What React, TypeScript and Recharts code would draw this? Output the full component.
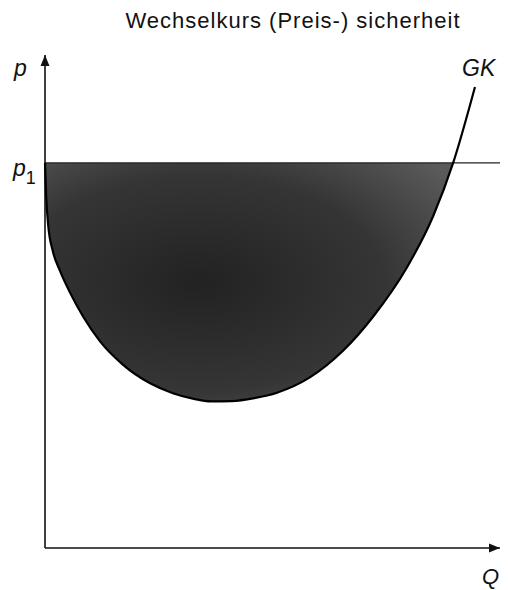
import React from "react"
import {
  Area,
  ComposedChart,
  Line,
  ReferenceDot,
  ReferenceLine,
  XAxis,
  YAxis,
} from "recharts"

// quantity Q along the cost curve (0..100 scale)
const qValues = [0, 0.25, 0.7, 1.7, 3.3, 5.5, 8.4, 12.1, 17.1, 23.1, 28.1, 32.5, 36.5, 41.0, 46.0, 51.0, 58.2, 65.5, 72.1, 79.6, 85.3, 89.7, 94.5]
// price level of the GK curve at each Q
const gkValues = [78.1, 71.5, 65.5, 60.3, 56.2, 51.8, 46.9, 41.9, 37.2, 33.4, 31.4, 30.3, 29.75, 29.8, 30.4, 31.5, 34.6, 40.0, 46.9, 57.0, 67.3, 78.1, 93.5]
// the fixed (secure) price p1
const p1 = 78.1

const data = qValues.map((q, i) => ({
  q,
  gk: gkValues[i],
  band: q < 90 ? [gkValues[i], p1] : null,
}))

const ink = "#111"

// Arrow heads for the axes
const ArrowRight = ({ cx, cy }: any) => (
  <path d={`M${cx},${cy} L${cx - 11},${cy - 4.5} L${cx - 11},${cy + 4.5} Z`} fill={ink} />
)
const ArrowUp = ({ cx, cy }: any) => (
  <path d={`M${cx},${cy} L${cx - 4.5},${cy + 11} L${cx + 4.5},${cy + 11} Z`} fill={ink} />
)

const label = (x: number, y: number, size: number, italic = true): React.CSSProperties => ({
  position: "absolute",
  left: x,
  top: y,
  fontSize: size,
  fontStyle: italic ? "italic" : "normal",
  lineHeight: 1,
  color: ink,
})

export default function App() {
  return (
    <div
      style={{
        position: "absolute",
        left: 0,
        top: 0,
        width: 508,
        height: 590,
        background: "#fff",
        fontFamily: "'Liberation Sans', Arial, sans-serif",
      }}
    >
      <div style={{ ...label(0, 10, 22, false), width: 586, textAlign: "center", letterSpacing: 1 }}>
        Wechselkurs (Preis-) sicherheit
      </div>
      <div style={label(14, 57, 23)}>p</div>
      <div style={label(13, 157, 23)}>
        p<span style={{ fontStyle: "normal", fontSize: 18, position: "relative", top: 8 }}>1</span>
      </div>
      <div style={label(462, 57, 23)}>GK</div>
      <div style={label(482, 566, 22)}>Q</div>

      <ComposedChart
        width={508}
        height={590}
        data={data}
        margin={{ top: 55, right: 8, bottom: 42, left: 45 }}
      >
        <defs>
          <radialGradient id="shade" cx="0.38" cy="0.5" r="0.75">
            <stop offset="0%" stopColor="#222" />
            <stop offset="60%" stopColor="#353535" />
            <stop offset="100%" stopColor="#5a5a5a" />
          </radialGradient>
        </defs>
        <XAxis type="number" dataKey="q" domain={[0, 100]} hide />
        <YAxis type="number" domain={[0, 100]} hide />
        <Area
          dataKey="band"
          type="monotone"
          fill="url(#shade)"
          fillOpacity={1}
          stroke="none"
          isAnimationActive={false}
        />
        <ReferenceLine y={p1} stroke="#222" strokeWidth={1.2} />
        <ReferenceLine x={0} stroke={ink} strokeWidth={1.6} />
        <ReferenceLine y={0} stroke={ink} strokeWidth={1.6} />
        <Line
          dataKey="gk"
          type="monotone"
          stroke="#000"
          strokeWidth={2.2}
          dot={false}
          isAnimationActive={false}
        />
        <ReferenceDot x={100} y={0} r={0} shape={ArrowRight} />
        <ReferenceDot x={0} y={100} r={0} shape={ArrowUp} />
      </ComposedChart>
    </div>
  )
}
